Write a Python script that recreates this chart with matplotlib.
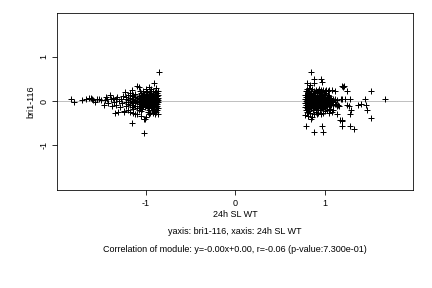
import numpy as np
import matplotlib
matplotlib.use("Agg")
import matplotlib.pyplot as plt

plt.rcParams['font.family'] = ['Liberation Sans', 'DejaVu Sans']
plt.rcParams['axes.unicode_minus'] = False

# ======================
# Datos (x = 24h SL WT, y = bri1-116)
# ======================
left_pts = [
    (-1.84, 0.05), (-1.80, -0.02), (-1.71, 0.02), (-1.67, 0.05), (-1.64, 0.08),
    (-1.62, 0.08), (-1.60, 0.06), (-1.59, 0.02), (-1.57, -0.03), (-1.55, 0.05),
    (-1.52, 0.05), (-1.50, 0.03), (-1.47, -0.08), (-1.46, 0.02), (-1.445, 0.10),
    (-1.43, 0.06), (-1.42, -0.05), (-1.40, 0.13), (-1.39, 0.04), (-1.38, -0.11),
    (-1.37, 0.07), (-1.36, -0.02), (-1.35, -0.27), (-1.34, 0.05), (-1.33, -0.08),
    (-1.32, 0.09), (-1.31, -0.24), (-1.30, 0.01), (-1.29, -0.13), (-1.28, 0.06),
    (-1.27, -0.04), (-1.26, 0.12), (-1.25, -0.25), (-1.24, -0.22), (-1.23, 0.20),
    (-1.22, 0.05), (-1.22, -0.03), (-1.22, 0.10), (-1.22, -0.12),
    (-1.20, 0.02), (-1.20, -0.06), (-1.20, 0.14), (-1.20, -0.20),
    (-1.18, 0.07), (-1.18, -0.01), (-1.18, -0.09), (-1.18, 0.18), (-1.18, -0.25),
    (-1.16, 0.04), (-1.16, -0.04), (-1.16, 0.11), (-1.16, -0.14), (-1.16, -0.49),
    (-1.15, 0.25), (-1.15, 0.00), (-1.15, -0.08),
    (-1.14, 0.06), (-1.14, -0.02), (-1.14, 0.13), (-1.14, -0.18), (-1.14, -0.27),
    (-1.12, 0.03), (-1.12, -0.05), (-1.12, 0.09), (-1.12, -0.11), (-1.12, 0.16), (-1.12, -0.29),
    (-1.10, 0.35), (-1.10, 0.01), (-1.10, -0.03), (-1.10, 0.07), (-1.10, -0.15), (-1.10, -0.28),
    (-1.08, 0.33), (-1.08, 0.05), (-1.08, -0.07), (-1.08, 0.12), (-1.08, -0.02), (-1.08, -0.20),
    (-1.07, 0.22), (-1.07, 0.00), (-1.07, -0.10), (-1.07, 0.08),
    (-1.06, 0.04), (-1.06, -0.04), (-1.06, 0.15), (-1.06, -0.13), (-1.06, -0.22),
    (-1.05, 0.02), (-1.05, -0.06), (-1.05, 0.10), (-1.05, 0.19), (-1.05, -0.33),
    (-1.04, 0.06), (-1.04, -0.01), (-1.04, -0.08), (-1.04, 0.13), (-1.04, -0.17),
    (-1.03, 0.03), (-1.03, -0.03), (-1.03, 0.09), (-1.03, -0.12), (-1.03, 0.24),
    (-1.02, -0.72), (-1.02, 0.00), (-1.02, 0.05), (-1.02, -0.06), (-1.02, 0.17), (-1.02, -0.41),
    (-1.01, -0.41), (-1.01, 0.02), (-1.01, -0.02), (-1.01, 0.11), (-1.01, -0.14), (-1.01, 0.07),
    (-1.00, 0.04), (-1.00, -0.05), (-1.00, 0.01), (-1.00, 0.14), (-1.00, -0.09), (-1.00, -0.36), (-1.00, 0.27),
    (-0.99, 0.06), (-0.99, -0.03), (-0.99, 0.09), (-0.99, -0.11), (-0.99, 0.00), (-0.99, 0.20),
    (-0.98, 0.03), (-0.98, -0.07), (-0.98, 0.12), (-0.98, -0.16), (-0.98, 0.05), (-0.98, -0.24),
    (-0.97, 0.01), (-0.97, -0.01), (-0.97, 0.08), (-0.97, -0.10), (-0.97, 0.16), (-0.97, -0.30), (-0.97, 0.31),
    (-0.96, 0.05), (-0.96, -0.04), (-0.96, 0.10), (-0.96, -0.13), (-0.96, 0.02), (-0.96, -0.20),
    (-0.95, 0.00), (-0.95, -0.06), (-0.95, 0.13), (-0.95, -0.08), (-0.95, 0.22), (-0.95, -0.27),
    (-0.94, 0.04), (-0.94, -0.02), (-0.94, 0.07), (-0.94, -0.15), (-0.94, 0.18), (-0.94, 0.28),
    (-0.93, 0.02), (-0.93, -0.05), (-0.93, 0.11), (-0.93, -0.10), (-0.93, -0.19), (-0.93, 0.06),
    (-0.92, 0.03), (-0.92, -0.03), (-0.92, 0.09), (-0.92, -0.12), (-0.92, 0.15), (-0.92, -0.26), (-0.92, 0.24),
    (-0.91, 0.41), (-0.91, 0.01), (-0.91, -0.07), (-0.91, 0.06), (-0.91, -0.17), (-0.91, 0.12),
    (-0.90, 0.05), (-0.90, -0.01), (-0.90, 0.10), (-0.90, -0.09), (-0.90, 0.20), (-0.90, -0.22), (-0.90, -0.30),
    (-0.89, 0.02), (-0.89, -0.04), (-0.89, 0.08), (-0.89, -0.14), (-0.89, 0.14), (-0.89, 0.30), (-0.89, -0.25),
    (-0.88, 0.04), (-0.88, 0.00), (-0.88, -0.06), (-0.88, 0.11), (-0.88, -0.11), (-0.88, 0.19), (-0.88, -0.20),
    (-0.87, 0.03), (-0.87, -0.03), (-0.87, 0.07), (-0.87, -0.16), (-0.87, 0.13), (-0.87, -0.28), (-0.87, 0.23),
    (-0.857, 0.67),
]

right_pts = [
    (0.85, 0.67), (0.80, 0.42), (0.88, 0.50), (0.965, 0.50), (0.975, 0.44),
    (0.79, -0.57), (0.88, -0.69), (0.97, -0.56), (0.98, -0.69), (1.20, -0.56),
    (1.29, -0.56), (1.33, -0.64), (1.29, -0.28), (1.30, -0.20), (1.37, -0.08),
    (1.41, -0.07), (1.46, -0.08), (1.48, -0.21), (1.52, -0.37), (1.52, 0.24),
    (1.45, 0.05), (1.68, 0.05), (1.29, 0.05), (1.25, 0.24), (1.19, 0.34),
    (1.21, 0.33), (1.22, 0.34), (1.17, -0.42), (1.19, -0.42), (1.20, -0.44),
    (1.14, -0.30), (1.10, -0.20), (1.15, -0.08), (1.18, 0.04), (1.20, 0.04),
    (1.23, 0.04), (1.25, -0.08), (1.27, -0.10), (1.12, 0.22), (1.08, 0.25),
    (1.05, 0.26), (1.16, -0.12), (1.13, -0.06),
    (0.78, 0.05), (0.78, -0.05), (0.78, 0.15), (0.78, -0.13), (0.78, -0.31),
    (0.79, 0.00), (0.79, 0.10), (0.79, -0.09), (0.79, 0.22), (0.79, -0.20),
    (0.80, 0.03), (0.80, -0.03), (0.80, 0.13), (0.80, -0.15), (0.80, 0.27), (0.80, -0.25),
    (0.81, 0.06), (0.81, -0.07), (0.81, 0.17), (0.81, -0.11), (0.81, 0.01),
    (0.82, 0.02), (0.82, -0.02), (0.82, 0.09), (0.82, -0.18), (0.82, 0.20), (0.82, -0.34),
    (0.83, 0.04), (0.83, -0.05), (0.83, 0.12), (0.83, -0.13), (0.83, 0.30), (0.83, -0.22),
    (0.84, 0.00), (0.84, 0.07), (0.84, -0.09), (0.84, 0.19), (0.84, -0.27), (0.84, 0.36),
    (0.85, 0.05), (0.85, -0.04), (0.85, 0.14), (0.85, -0.16), (0.85, 0.24), (0.85, -0.40),
    (0.86, 0.02), (0.86, -0.07), (0.86, 0.10), (0.86, -0.12), (0.86, 0.28), (0.86, -0.35),
    (0.87, 0.03), (0.87, -0.02), (0.87, 0.16), (0.87, -0.20), (0.87, 0.07),
    (0.88, 0.06), (0.88, -0.05), (0.88, 0.11), (0.88, -0.14), (0.88, 0.23), (0.88, -0.30), (0.88, 0.40),
    (0.89, 0.01), (0.89, -0.08), (0.89, 0.13), (0.89, -0.10), (0.89, 0.19),
    (0.90, 0.04), (0.90, -0.03), (0.90, 0.08), (0.90, -0.17), (0.90, 0.26), (0.90, -0.24),
    (0.91, 0.00), (0.91, 0.12), (0.91, -0.11), (0.91, 0.20), (0.91, -0.28),
    (0.92, 0.05), (0.92, -0.06), (0.92, 0.15), (0.92, -0.15), (0.92, 0.03),
    (0.93, 0.02), (0.93, -0.01), (0.93, 0.10), (0.93, -0.19), (0.93, 0.22), (0.93, -0.26),
    (0.94, 0.07), (0.94, -0.04), (0.94, 0.14), (0.94, -0.09), (0.94, 0.27),
    (0.95, 0.03), (0.95, -0.07), (0.95, 0.09), (0.95, -0.13), (0.95, 0.18), (0.95, -0.21),
    (0.96, 0.00), (0.96, 0.11), (0.96, -0.16), (0.96, 0.25), (0.96, -0.29),
    (0.97, 0.05), (0.97, -0.03), (0.97, 0.13), (0.97, -0.10), (0.97, 0.21),
    (0.98, 0.02), (0.98, -0.06), (0.98, 0.08), (0.98, -0.18), (0.98, 0.26), (0.98, -0.27),
    (0.99, 0.04), (0.99, -0.02), (0.99, 0.16), (0.99, -0.12),
    (1.00, 0.01), (1.00, -0.08), (1.00, 0.10), (1.00, 0.24), (1.00, -0.23),
    (1.01, 0.06), (1.01, -0.04), (1.01, 0.14), (1.01, -0.14),
    (1.02, 0.03), (1.02, -0.10), (1.02, 0.19), (1.02, 0.26),
    (1.03, 0.00), (1.03, 0.09), (1.03, -0.20), (1.03, -0.05),
    (1.04, 0.05), (1.04, -0.07), (1.04, 0.15), (1.04, 0.22),
    (1.05, 0.02), (1.05, -0.12), (1.05, 0.11), (1.05, -0.26),
    (1.06, 0.04), (1.06, -0.05), (1.06, -0.18),
    (1.07, 0.08), (1.07, -0.09), (1.07, 0.03),
    (1.08, 0.01), (1.08, -0.03), (1.08, -0.25),
    (1.10, 0.05), (1.10, -0.08), (1.10, 0.02),
    (1.12, 0.04), (1.12, -0.06),
    (1.14, 0.03), (1.14, -0.10),
]

x_label = "24h SL WT"
y_label = "bri1-116"
line1 = "yaxis: bri1-116, xaxis: 24h SL WT"
line2 = "Correlation of module: y=-0.00x+0.00, r=-0.06 (p-value:7.300e-01)"

pts = np.array(left_pts + right_pts)
x, y = pts[:, 0], pts[:, 1]

# ======================
# Figura
# ======================
fig = plt.figure(figsize=(6, 4), dpi=72)
ax = fig.add_axes([0.133, 0.340, 0.823, 0.616])

ax.axhline(0, color="#c0c0c0", lw=1, zorder=1)
ax.plot(x, y, ls="none", marker="+", ms=5.5, mew=1.0, color="black", zorder=2)

ax.set_xlim(-1.99, 1.99)
ax.set_ylim(-2.01, 2.0)
ax.set_xticks([-1, 0, 1])
ax.set_yticks([-1, 0, 1])
ax.tick_params(direction="out", length=5, width=0.8, labelsize=9, pad=4)
for lab in ax.get_yticklabels():
    lab.set_rotation(90)
    lab.set_va("center")
for s in ax.spines.values():
    s.set_linewidth(0.8)

ax.set_xlabel(x_label, fontsize=9, labelpad=2)
ax.set_ylabel(y_label, fontsize=9, labelpad=4)

fig.text(235 / 432, 1 - 232 / 288, line1, ha="center", va="center", fontsize=9)
fig.text(235 / 432, 1 - 250 / 288, line2, ha="center", va="center", fontsize=9)

fig.savefig("out.png", dpi=72)
